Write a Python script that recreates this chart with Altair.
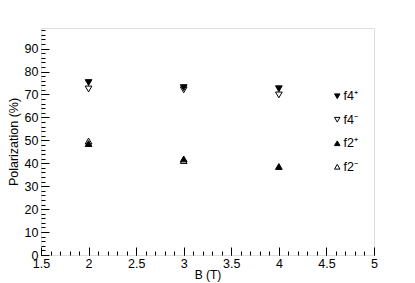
import altair as alt
import pandas as pd

B_values = [2, 3, 4]
f4_plus = [75.2, 73.0, 72.5]
f4_minus = [72.4, 72.0, 69.8]
f2_plus = [48.6, 41.9, 38.6]
f2_minus_B = [2, 3]
f2_minus = [49.7, 41.2]

series_names = ["f4\u207a", "f4\u207b", "f2\u207a", "f2\u207b"]
x_ticks = [1.5, 2, 2.5, 3, 3.5, 4, 4.5, 5]
y_ticks = [0, 10, 20, 30, 40, 50, 60, 70, 80, 90]

rows = []
for b, v in zip(B_values, f4_plus):
    rows.append({"B": b, "P": v, "s": series_names[0]})
for b, v in zip(B_values, f4_minus):
    rows.append({"B": b, "P": v, "s": series_names[1]})
for b, v in zip(B_values, f2_plus):
    rows.append({"B": b, "P": v, "s": series_names[2]})
for b, v in zip(f2_minus_B, f2_minus):
    rows.append({"B": b, "P": v, "s": series_names[3]})
df = pd.DataFrame(rows)

FONT = "Liberation Sans"
xdom = [1.5, 5]
ydom = [0, 99]
x_minor = [round(1.5 + 0.1 * i, 2) for i in range(36)]
y_minor = [2 * i for i in range(50)]


def leg():
    return alt.Legend(title=None, orient="none", legendX=290, legendY=62,
                      labelFont=FONT, labelFontSize=12.5, labelColor="black",
                      symbolSize=30, symbolStrokeWidth=1,
                      rowPadding=10.5, labelOffset=0, padding=0)


main = alt.Chart(df).mark_point(strokeWidth=1, opacity=1, size=45).encode(
    x=alt.X("B:Q", scale=alt.Scale(domain=xdom, nice=False, zero=False),
            axis=alt.Axis(values=x_ticks, title="B (T)", orient="bottom", offset=-8, tickSize=8,
                          labelPadding=2, domain=False, grid=False, tickColor="black",
                          labelFont=FONT, labelFontSize=12.5, labelColor="black",
                          titleFont=FONT, titleFontSize=12, titleFontWeight="normal",
                          titleColor="black", titlePadding=0, labelFlush=False,
                          format="~g")),
    y=alt.Y("P:Q", scale=alt.Scale(domain=ydom, nice=False),
            axis=alt.Axis(values=y_ticks, title="Polarization (%)", orient="left", offset=-8,
                          tickSize=8, labelPadding=3, domain=False, grid=False, tickColor="black",
                          labelFont=FONT, labelFontSize=12.5, labelColor="black",
                          titleFont=FONT, titleFontSize=12.5, titleFontWeight="normal",
                          titleColor="black", titlePadding=4, labelFlush=False)),
    shape=alt.Shape("s:N", scale=alt.Scale(domain=series_names,
                    range=["triangle-down", "triangle-down", "triangle-up", "triangle-up"]),
                    legend=leg()),
    fill=alt.Fill("s:N", scale=alt.Scale(domain=series_names,
                  range=["black", "transparent", "black", "transparent"]),
                  legend=leg()),
    stroke=alt.Stroke("s:N", scale=alt.Scale(domain=series_names,
                      range=["black", "black", "black", "black"]),
                      legend=leg()),
)

minor = alt.Chart(df).mark_point(opacity=0).encode(
    x=alt.X("B:Q", scale=alt.Scale(domain=xdom, nice=False, zero=False),
            axis=alt.Axis(values=x_minor, title=None, orient="bottom", offset=-4, tickSize=4,
                          labels=False, domain=False, grid=False, tickColor="black")),
    y=alt.Y("P:Q", scale=alt.Scale(domain=ydom, nice=False),
            axis=alt.Axis(values=y_minor, title=None, orient="left", offset=-4, tickSize=4,
                          labels=False, domain=False, grid=False, tickColor="black")),
)

chart = alt.layer(minor, main).resolve_scale(x="independent", y="independent").properties(
    width=333, height=227,
    autosize=alt.AutoSizeParams(type="none"),
    padding={"left": 33, "top": 20, "right": 33, "bottom": 28},
).configure_view(stroke="black", strokeWidth=1).configure(background="white")

chart.save("out.html", embed_options={"renderer": "svg", "actions": False})
